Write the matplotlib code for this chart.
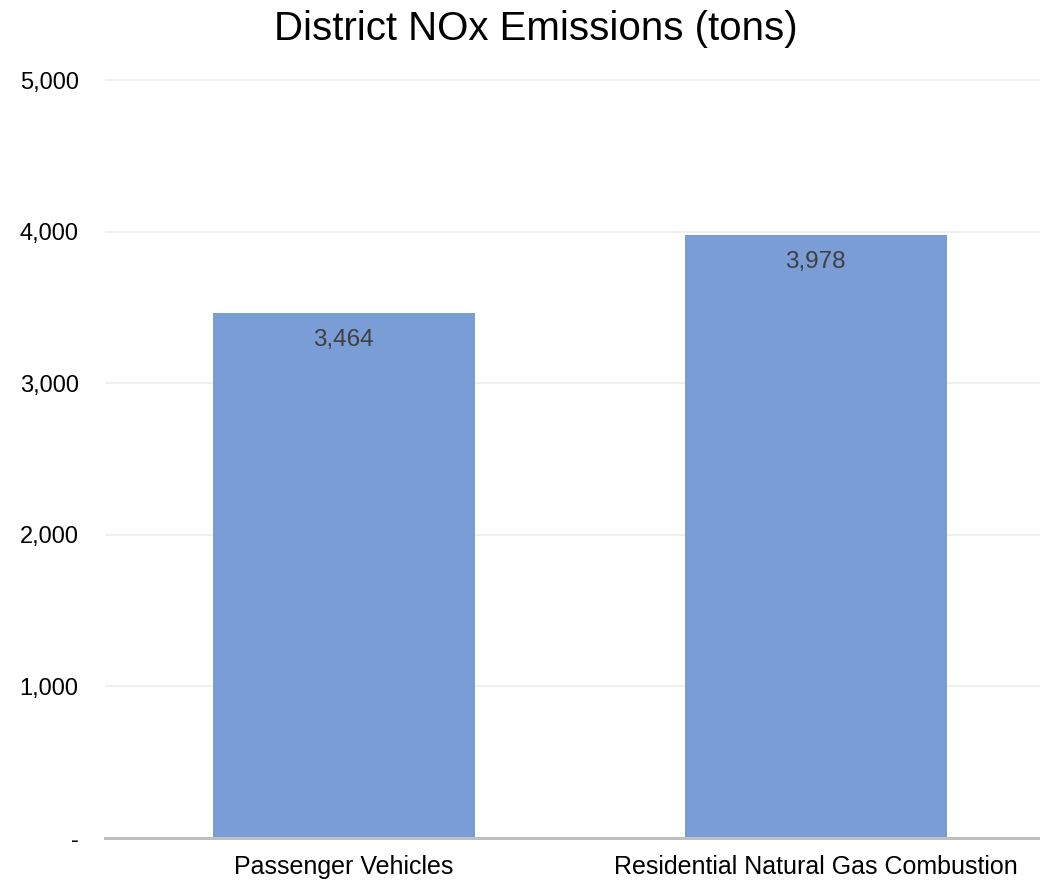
import matplotlib.pyplot as plt
from matplotlib.ticker import FuncFormatter

plt.rcParams['font.family'] = ['Liberation Sans', 'DejaVu Sans']

categories = ['Passenger Vehicles', 'Residential Natural Gas Combustion']
emissions = [3464, 3978]
y_ticks = [0, 1000, 2000, 3000, 4000, 5000]

bar_color = '#7b9dd5'

fig = plt.figure(figsize=(10.4, 8.82), dpi=100)
ax = fig.add_axes([105 / 1040, 1 - 838 / 882, 935 / 1040, 761 / 882])

x = range(len(categories))
ax.bar(x, emissions, width=0.555, color=bar_color, zorder=2)

for xi, v in zip(x, emissions):
    ax.annotate(f'{v:,}', (xi, v), xytext=(0, -19.5), textcoords='offset points',
                ha='center', va='center', fontsize=17.5, color='#404040')

ax.set_xlim(-0.506, 1.475)
ax.set_ylim(0, 5020)
ax.set_yticks(y_ticks)
ax.yaxis.set_major_formatter(FuncFormatter(lambda v, p: '-' if v == 0 else f'{int(v):,}'))
ax.set_xticks(list(x))
ax.set_xticklabels(categories)

ax.grid(axis='y', color='#ededed', linewidth=1.2, zorder=0)
ax.tick_params(axis='both', length=0)
ax.tick_params(axis='y', labelsize=17, pad=19)
ax.tick_params(axis='x', labelsize=18, pad=12)

for side in ['top', 'right', 'left']:
    ax.spines[side].set_visible(False)
ax.spines['bottom'].set_color('#bfbfbf')
ax.spines['bottom'].set_linewidth(2.2)
ax.spines['bottom'].set_zorder(3)

fig.text(536 / 1040, 1 - 29 / 882, 'District NOx Emissions (tons)',
         ha='center', va='center', fontsize=29, color='black')

fig.savefig('out.png', dpi=100, facecolor='white')
